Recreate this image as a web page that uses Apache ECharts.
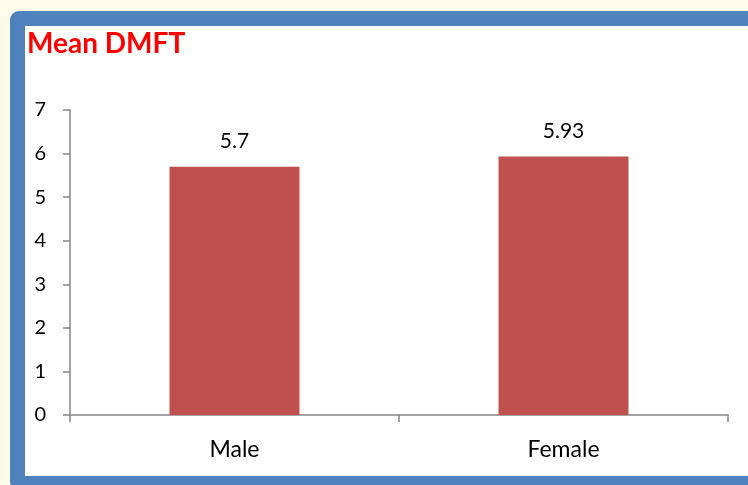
<!DOCTYPE html>
<html>
<head>
<meta charset="utf-8">
<script src="https://cdn.jsdelivr.net/npm/echarts@6/dist/echarts.min.js"></script>
<style>
  html, body { margin: 0; padding: 0; width: 748px; height: 485px; overflow: hidden; background: #FEFBEA; }
  #frame { position: absolute; left: 10px; top: 11px; width: 760px; height: 480px; box-sizing: border-box;
           border: 15px solid #4F81BD; border-radius: 9px; background: #FFFFFF; }
  #chart { position: absolute; left: 0; top: 0; width: 748px; height: 485px; }
</style>
</head>
<body>
<div id="frame"></div>
<div id="chart"></div>
<script>
// Mean DMFT by gender
const categories = ['Male', 'Female'];
const meanDMFT = [5.7, 5.93];
const yTicks = [0, 1, 2, 3, 4, 5, 6, 7];

const font = 'Lato, "Open Sans", sans-serif';
const axisGrey = '#868686';

const chart = echarts.init(document.getElementById('chart'), null, { renderer: 'canvas' });
chart.setOption({
  backgroundColor: 'transparent',
  animation: false,
  title: {
    text: 'Mean DMFT',
    left: 22, top: 25,
    textStyle: { color: '#FF0000', fontSize: 28, fontWeight: 'bold', fontFamily: font }
  },
  grid: { left: 70, right: 20, top: 110, bottom: 70, containLabel: false },
  xAxis: {
    type: 'category',
    data: categories,
    axisLine: { show: true, lineStyle: { color: axisGrey, width: 1.5 } },
    axisTick: { show: true, length: 7, alignWithLabel: false, lineStyle: { color: axisGrey, width: 1.5 } },
    axisLabel: { color: '#000', fontSize: 23, fontFamily: font, margin: 23 },
    splitLine: { show: false }
  },
  yAxis: {
    type: 'value',
    min: yTicks[0], max: yTicks[yTicks.length - 1], interval: 1,
    axisLine: { show: true, lineStyle: { color: axisGrey, width: 1.5 } },
    axisTick: { show: true, length: 7, inside: false, lineStyle: { color: axisGrey, width: 1.5 } },
    axisLabel: { color: '#000', fontSize: 20, fontFamily: font, margin: 24 },
    splitLine: { show: false }
  },
  series: [{
    type: 'bar',
    data: meanDMFT,
    barWidth: '39.5%',
    itemStyle: { color: '#C0504D' },
    label: {
      show: true, position: 'top', distance: 15,
      color: '#000', fontSize: 21, fontFamily: font,
      formatter: p => String(p.value)
    }
  }]
});
</script>
</body>
</html>
